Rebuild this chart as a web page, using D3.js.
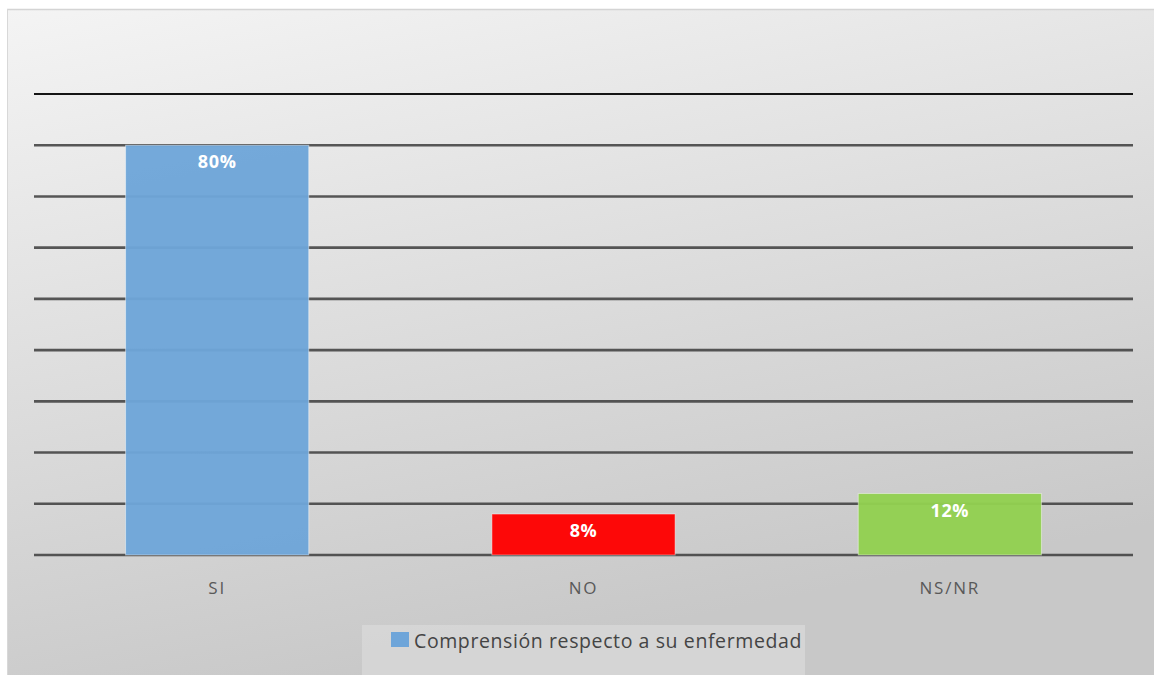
<!DOCTYPE html>
<html>
<head>
<meta charset="utf-8">
<script src="https://cdn.jsdelivr.net/npm/d3@7"></script>
<style>
  html, body { margin: 0; padding: 0; background: #ffffff; }
  svg { display: block; }
</style>
</head>
<body>
<svg id="chart" width="1154" height="675"></svg>
<script>
// Chart data
const categories = ["SI", "NO", "NS/NR"];
const values = [0.80, 0.08, 0.12];
const valueLabels = ["80%", "8%", "12%"];
const barColors = ["#6ea5d9", "#ff0000", "#92d050"];
const seriesName = "Comprensión respecto a su enfermedad";
const gridTicks = [0, 0.1, 0.2, 0.3, 0.4, 0.5, 0.6, 0.7, 0.8, 0.9];

const svg = d3.select("#chart");
const W = 1154, H = 675;

// Chart background with soft diagonal gradient
const defs = svg.append("defs");
const grad = defs.append("linearGradient")
  .attr("id", "bg").attr("x1", "0%").attr("y1", "0%").attr("x2", "35%").attr("y2", "100%");
grad.append("stop").attr("offset", "0%").attr("stop-color", "#f4f4f4");
grad.append("stop").attr("offset", "100%").attr("stop-color", "#c8c8c8");

svg.append("rect")
  .attr("x", 7).attr("y", 9).attr("width", W - 7).attr("height", H - 9)
  .attr("fill", "url(#bg)");
svg.append("line")
  .attr("x1", 7).attr("x2", W).attr("y1", 9.5).attr("y2", 9.5)
  .attr("stroke", "#d4d4d4").attr("stroke-width", 1.5);
svg.append("line")
  .attr("x1", 7.5).attr("x2", 7.5).attr("y1", 9).attr("y2", H)
  .attr("stroke", "#d8d8d8").attr("stroke-width", 1);

// Scales
const x = d3.scaleBand()
  .domain(categories)
  .range([34, 1133])
  .paddingInner(0.5)
  .paddingOuter(0.25);

const y = d3.scaleLinear()
  .domain([0, 0.9])
  .range([555, 94]);

// Horizontal gridlines
svg.append("g")
  .selectAll("line")
  .data(gridTicks)
  .join("line")
  .attr("x1", 34).attr("x2", 1133)
  .attr("y1", d => y(d)).attr("y2", d => y(d))
  .attr("stroke", (d, i) => i === gridTicks.length - 1 ? "#151515" : "#3c3c3c")
  .attr("stroke-opacity", (d, i) => i === gridTicks.length - 1 ? 1 : 0.85)
  .attr("stroke-width", (d, i) => i === gridTicks.length - 1 ? 2 : 2.6);

// Bars
svg.append("g")
  .selectAll("rect")
  .data(categories)
  .join("rect")
  .attr("x", d => x(d))
  .attr("width", x.bandwidth())
  .attr("y", (d, i) => y(values[i]))
  .attr("height", (d, i) => y(0) - y(values[i]))
  .attr("fill", (d, i) => barColors[i])
  .attr("fill-opacity", 0.96)
  .attr("stroke", "rgba(255,255,255,0.45)")
  .attr("stroke-width", 1);

// Value labels inside the top of each bar
svg.append("g")
  .selectAll("text")
  .data(categories)
  .join("text")
  .attr("x", d => x(d) + x.bandwidth() / 2)
  .attr("y", (d, i) => y(values[i]) + 16)
  .attr("text-anchor", "middle")
  .attr("dominant-baseline", "central")
  .attr("font-family", "'Open Sans', sans-serif")
  .attr("font-weight", "bold")
  .attr("font-size", 18)
  .attr("letter-spacing", 0.6)
  .attr("fill", "#ffffff")
  .text((d, i) => valueLabels[i]);

// Category axis labels
const xAxis = svg.append("g")
  .attr("transform", `translate(0, ${y(0)})`)
  .call(d3.axisBottom(x).tickSize(0).tickPadding(0));
xAxis.select(".domain").remove();
xAxis.selectAll("text")
  .attr("y", 32)
  .attr("dy", "0")
  .attr("dominant-baseline", "central")
  .attr("font-family", "'Open Sans', sans-serif")
  .attr("font-size", 17)
  .attr("letter-spacing", 1.8)
  .attr("fill", "#595959");

// Legend
const legend = svg.append("g");
legend.append("rect")
  .attr("x", 362).attr("y", 625).attr("width", 443).attr("height", 50)
  .attr("fill", "#dadada").attr("fill-opacity", 0.7);
legend.append("rect")
  .attr("x", 391).attr("y", 632).attr("width", 18).attr("height", 15)
  .attr("fill", barColors[0]);
legend.append("text")
  .attr("x", 414).attr("y", 640)
  .attr("dominant-baseline", "central")
  .attr("font-family", "'Open Sans', sans-serif")
  .attr("font-size", 19.5)
  .attr("letter-spacing", 0.6)
  .attr("fill", "#444444")
  .text(seriesName);
</script>
</body>
</html>
